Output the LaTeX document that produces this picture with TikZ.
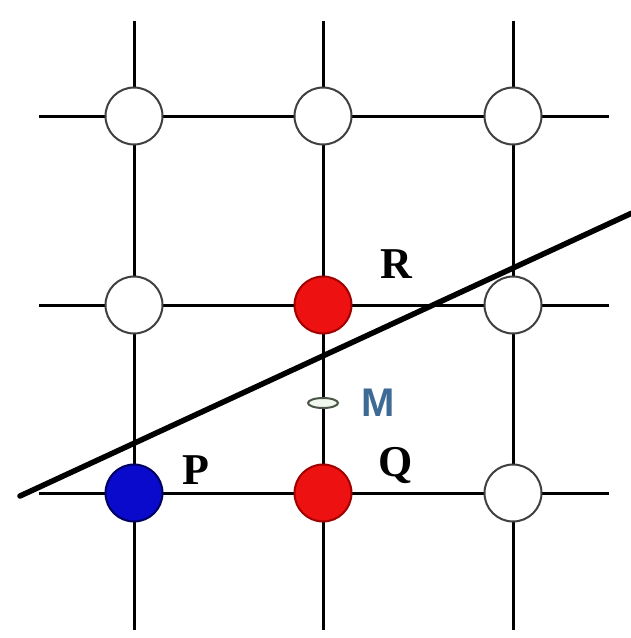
\documentclass[tikz,border=0pt]{standalone}
\usepackage{fontspec}
\usetikzlibrary{shapes.geometric}
\setmainfont{Liberation Serif}
\newfontfamily\labsans{Liberation Sans}
\definecolor{ptred}{HTML}{EE1111}
\definecolor{ptredb}{HTML}{A00000}
\definecolor{ptblue}{HTML}{0A0ACC}
\definecolor{ptblueb}{HTML}{000060}
\definecolor{mblue}{HTML}{3D6B96}
\definecolor{ringgray}{HTML}{404040}
\definecolor{mring}{HTML}{4A5548}
\definecolor{mfill}{HTML}{F2F7EE}
\begin{document}
\begin{tikzpicture}[x=1pt,y=-1pt,
  gridline/.style={line width=3pt,black},
  cutline/.style={line width=5.5pt,black,line cap=round},
  gpt/.style={circle,minimum size=57pt,inner sep=0pt,draw=ringgray,line width=2pt,fill=white},
  redpt/.style={gpt,fill=ptred,draw=ptredb},
  bluept/.style={gpt,fill=ptblue,draw=ptblueb},
  midpt/.style={ellipse,minimum width=30pt,minimum height=10pt,inner sep=0pt,draw=mring,line width=2pt,fill=mfill},
  lab/.style={font=\fontsize{44}{44}\selectfont\bfseries,text=black,inner sep=0pt},
  mlab/.style={font=\labsans\fontsize{40}{40}\selectfont\bfseries,text=mblue,inner sep=0pt}]
\useasboundingbox (0,0) rectangle (630,638);
% grid line ends
\coordinate (t1) at (134,21);  \coordinate (b1) at (134,630);
\coordinate (t2) at (323,21);  \coordinate (b2) at (323,630);
\coordinate (t3) at (513,21);  \coordinate (b3) at (513,630);
\coordinate (l1) at (39,116);  \coordinate (r1) at (609,116);
\coordinate (l2) at (39,305);  \coordinate (r2) at (609,305);
\coordinate (l3) at (39,493);  \coordinate (r3) at (609,493);
\draw[gridline] (t1) -- (b1);
\draw[gridline] (t2) -- (b2);
\draw[gridline] (t3) -- (b3);
\draw[gridline] (l1) -- (r1);
\draw[gridline] (l2) -- (r2);
\draw[gridline] (l3) -- (r3);
% grid points
\node[gpt] (a1) at (134,116) {};
\node[gpt] (a2) at (323,116) {};
\node[gpt] (a3) at (513,116) {};
\node[gpt] (m1) at (134,305) {};
\node[redpt] (R) at (323,305) {};
\node[gpt] (m3) at (513,305) {};
\node[bluept] (P) at (134,493) {};
\node[redpt] (Q) at (323,493) {};
\node[gpt] (c3) at (513,493) {};
% midpoint
\node[midpt] (M) at (323,403) {};
% cutting line
\coordinate (s) at (20,496);
\coordinate (e) at (632,213);
\draw[cutline] (s) -- (e);
% labels
\node[lab] (Pl) at (196,470) {P};
\node[lab] (Ql) at (396,465) {Q};
\node[lab] (Rl) at (396,264) {R};
\node[mlab] (Ml) at (378,403) {M};
\end{tikzpicture}
\end{document}
